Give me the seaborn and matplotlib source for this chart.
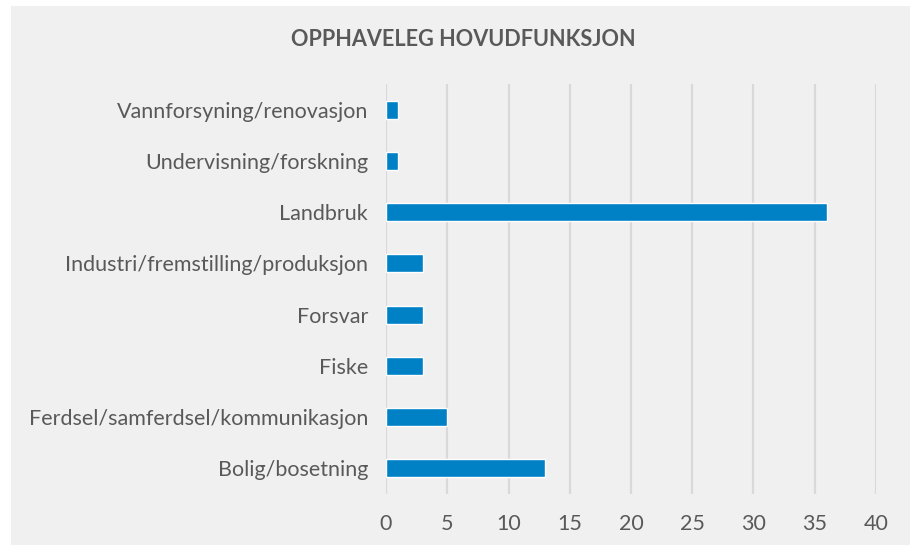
import pandas as pd
import seaborn as sns
import matplotlib.pyplot as plt
from matplotlib.patches import Rectangle

categories = [
    "Vannforsyning/renovasjon",
    "Undervisning/forskning",
    "Landbruk",
    "Industri/fremstilling/produksjon",
    "Forsvar",
    "Fiske",
    "Ferdsel/samferdsel/kommunikasjon",
    "Bolig/bosetning",
]
values = [1, 1, 36, 3, 3, 3, 5, 13]
x_ticks = [0, 5, 10, 15, 20, 25, 30, 35, 40]

df = pd.DataFrame({"kategori": categories, "antal": values})

BG = "#f0f0f0"
TEXT = "#595959"

sns.set_theme(style="white")
plt.rcParams["font.family"] = ["Lato", "DejaVu Sans"]

fig = plt.figure(figsize=(9.1, 5.45), dpi=100, facecolor="white")
fig.patches.append(Rectangle((11 / 910, 0), 1 - 11 / 910, 1 - 6 / 545,
                             transform=fig.transFigure, facecolor=BG,
                             edgecolor="none", zorder=-10))

ax = fig.add_axes([0.4242, 0.0943, 0.5384, 0.7508])
ax.set_facecolor(BG)
ax.patch.set_alpha(0)

sns.barplot(data=df, x="antal", y="kategori", color="#0081c6",
            saturation=1, width=0.35, ax=ax)

ax.set_xlim(0, 40)
ax.set_xticks(x_ticks)
ax.set_ylim(len(categories) - 0.5, -0.5)
ax.xaxis.grid(True, color="#d9d9d9", linewidth=1.6)
ax.set_axisbelow(True)
sns.despine(ax=ax, left=True, bottom=True)
ax.set_xlabel("")
ax.set_ylabel("")
ax.tick_params(axis="both", length=0, labelcolor=TEXT)
ax.tick_params(axis="y", labelsize=15.5, pad=13)
ax.tick_params(axis="x", labelsize=15.5, pad=15)

fig.text(0.509, 1 - 40 / 545, "OPPHAVELEG HOVUDFUNKSJON", ha="center",
         va="center", fontsize=15.6, color=TEXT, fontweight="bold")

fig.savefig("out.png", dpi=100, facecolor=fig.get_facecolor())
